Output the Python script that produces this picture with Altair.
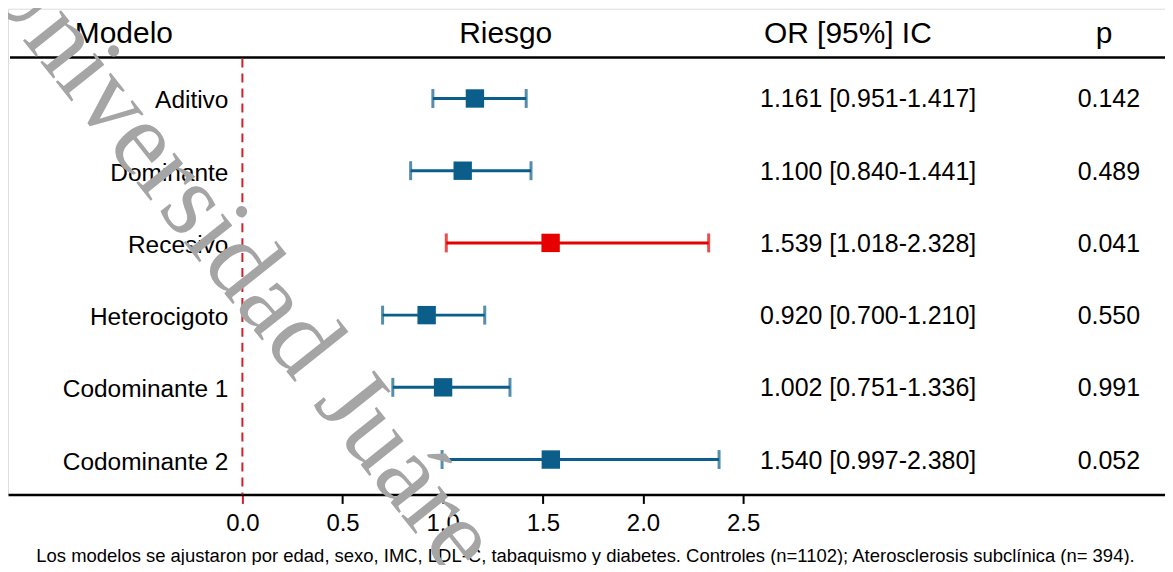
import altair as alt
import pandas as pd

models = ["Aditivo", "Dominante", "Recesivo", "Heterocigoto", "Codominante 1", "Codominante 2"]
or_vals = [1.161, 1.100, 1.539, 0.920, 1.002, 1.540]
ci_low = [0.951, 0.840, 1.018, 0.700, 0.751, 0.997]
ci_high = [1.417, 1.441, 2.328, 1.210, 1.336, 2.380]
p_vals = ["0.142", "0.489", "0.041", "0.550", "0.991", "0.052"]
significant = ["no", "no", "yes", "no", "no", "no"]
tick_values = [0.0, 0.5, 1.0, 1.5, 2.0, 2.5]
headers = ["Modelo", "Riesgo", "OR [95%] IC", "p"]
footnote = ("Los modelos se ajustaron por edad, sexo, IMC, LDL-C, tabaquismo y diabetes. "
            "Controles (n=1102); Aterosclerosis subclínica (n= 394).")
watermark = "Universidad Juáre"

df = pd.DataFrame({
    "model": models,
    "idx": list(range(len(models))),
    "or": or_vals,
    "lo": ci_low,
    "hi": ci_high,
    "p": p_vals,
    "sig": significant,
})
df["ortext"] = [f"{o:.3f} [{l:.3f}-{h:.3f}]" for o, l, h in zip(or_vals, ci_low, ci_high)]

W, H = 1160, 487
FONT = "Liberation Sans"
BLUE = "#0b5e8a"
RED = "#e60000"

xs = alt.Scale(domain=[-235 / 200.8, (W - 235) / 200.8], nice=False, zero=False)
ys = alt.Scale(domain=[-90 / 72.4, (H - 90) / 72.4], nice=False, zero=False, reverse=True)
col = alt.Color("sig:N", scale=alt.Scale(domain=["no", "yes"], range=[BLUE, RED]), legend=None)

base = alt.Chart(df)


def single(text):
    return alt.Chart(pd.DataFrame({"t": [text]}))


xaxis = alt.Axis(
    values=tick_values, format=".1f", title=None, grid=False,
    domainColor="black", domainWidth=2.5,
    tickColor={"condition": {"test": "datum.value == 0", "value": "#d0202a"}, "value": "black"},
    tickWidth=2, tickSize=9, labelFont=FONT, labelFontSize=24, labelColor="black",
    labelPadding=8, labelFlush=False,
)

err = base.mark_rule(strokeWidth=3).encode(
    x=alt.X("lo:Q", scale=xs, axis=xaxis),
    x2="hi:Q",
    y=alt.Y("idx:Q", scale=ys, axis=None),
    color=col,
)
cap_lo = base.mark_tick(orient="vertical", size=19, thickness=3).encode(
    x=alt.X("lo:Q", scale=xs), y=alt.Y("idx:Q", scale=ys), color=col)
cap_hi = base.mark_tick(orient="vertical", size=19, thickness=3).encode(
    x=alt.X("hi:Q", scale=xs), y=alt.Y("idx:Q", scale=ys), color=col)
sq = base.mark_square(size=340, opacity=1, filled=True).encode(
    x=alt.X("or:Q", scale=xs), y=alt.Y("idx:Q", scale=ys), color=col)

lab = base.mark_text(align="right", baseline="middle", font=FONT, fontSize=24.5, color="black", dy=3).encode(
    x=alt.value(221), y=alt.Y("idx:Q", scale=ys), text="model:N")
ortxt = base.mark_text(align="left", baseline="middle", font=FONT, fontSize=25, color="black", dy=1).encode(
    x=alt.value(754), y=alt.Y("idx:Q", scale=ys), text="ortext:N")
ptxt = base.mark_text(align="right", baseline="middle", font=FONT, fontSize=25, color="black", dy=1).encode(
    x=alt.value(1135), y=alt.Y("idx:Q", scale=ys), text="p:N")

hdr_x = [67, 499, 842, 1099]
hdr_align = ["left", "center", "center", "center"]
hdr_layers = [
    single(t).mark_text(align=a, baseline="middle", font=FONT, fontSize=30, color="black").encode(
        x=alt.value(hx), y=alt.value(25), text="t:N")
    for t, a, hx in zip(headers, hdr_align, hdr_x)
]

top_rule = single("top").mark_rule(color="black", strokeWidth=2.5).encode(
    x=alt.value(2), x2=alt.value(W + 5), y=alt.value(49))
zero_rule = single("zero").mark_rule(color="#d0202a", strokeWidth=2, strokeDash=[9, 6]).encode(
    x=alt.datum(0, scale=xs), y=alt.value(50), y2=alt.value(H))

foot = single(footnote).mark_text(align="center", baseline="middle", font=FONT, fontSize=18.5, color="black").encode(
    x=alt.value(579), y=alt.value(549), text="t:N")

wm = single(watermark).mark_text(align="left", baseline="alphabetic", font="Liberation Serif",
                                 fontSize=106, angle=51.5, color="#a5a5a5").encode(
    x=alt.value(-34), y=alt.value(-30), text="t:N")

chart = alt.layer(
    top_rule, zero_rule, err, cap_lo, cap_hi, sq, lab, ortxt, ptxt, *hdr_layers, foot, wm
).properties(
    width=W, height=H, autosize="none",
    padding={"left": 0, "right": 0, "top": 0, "bottom": 70},
).configure_view(stroke=None).configure(background="white")

chart.save("out.html", embed_options={"renderer": "svg", "actions": False})
